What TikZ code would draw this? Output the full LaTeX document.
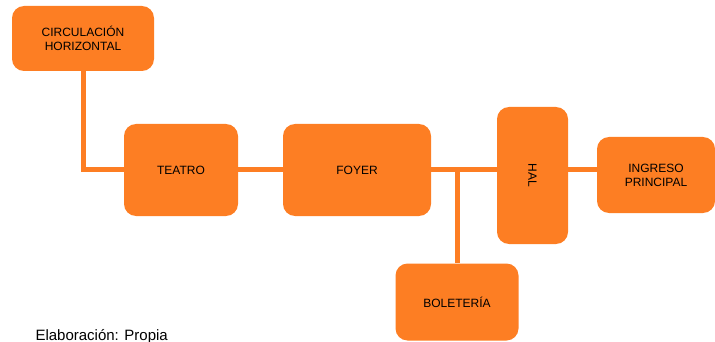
\documentclass[tikz,border=0pt]{standalone}
\usepackage{fontspec}
\setmainfont{Liberation Sans}
\usepackage{xcolor}
\usetikzlibrary{positioning}

\definecolor{naranja}{RGB}{253,126,35}

\begin{document}
\begin{tikzpicture}[
  x=1pt, y=-1pt,
  caja/.style = {fill=naranja, rounded corners=12pt, align=center, font=\fontsize{12}{14}\selectfont, inner sep=0pt},
  enlace/.style = {draw=naranja, line width=5pt}
]
  \useasboundingbox (0,0) rectangle (715,342);

  % espacios
  \node[caja, minimum width=142pt, minimum height=65pt] (circ) at (83,38.5) {CIRCULACIÓN\\HORIZONTAL};
  \node[caja, minimum width=114pt, minimum height=92pt] (teatro) at (181,170) {TEATRO};
  \node[caja, minimum width=148pt, minimum height=92pt] (foyer) at (357,170) {FOYER};
  \node[caja, minimum width=137pt, minimum height=71pt, rotate=-90] (hal) at (532.5,175.5) {HAL};
  \node[caja, minimum width=118pt, minimum height=76pt] (ingreso) at (656,175) {INGRESO\\PRINCIPAL};
  \node[caja, minimum width=123pt, minimum height=77pt] (boleteria) at (457,302) {BOLETERÍA};

  % conexiones (hal esta girado: south queda a la izquierda, north a la derecha)
  \coordinate (nudo) at (457,170);
  \draw[enlace] (circ.south) |- (teatro.west);
  \draw[enlace] (teatro.east) -- (foyer.west);
  \draw[enlace] (foyer.east) -- (foyer.east -| hal.south);
  \draw[enlace] (nudo) -- (boleteria.north);
  \draw[enlace] (hal.north |- foyer.east) -- (ingreso.west |- foyer.east);

  \node[anchor=base west, font=\fontsize{15}{18}\selectfont] (fuente) at (32,340) {Elaboración: Propia};
\end{tikzpicture}
\end{document}
